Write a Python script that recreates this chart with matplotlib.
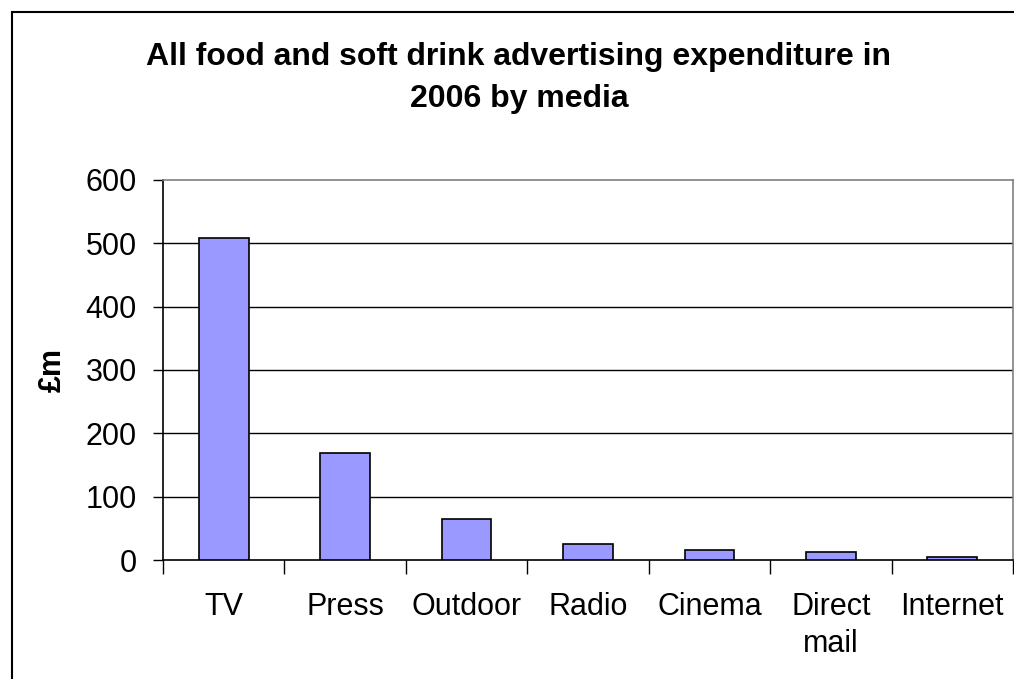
import matplotlib
matplotlib.use("Agg")
import matplotlib.pyplot as plt
from matplotlib.patches import Rectangle

categories = ["TV", "Press", "Outdoor", "Radio", "Cinema", "Direct\nmail", "Internet"]
spend = [508, 169, 64, 26, 16, 13, 5]
yticks = [0, 100, 200, 300, 400, 500, 600]

plt.rcParams["font.family"] = ["Liberation Sans", "DejaVu Sans"]

W, H = 1014, 679
fig = plt.figure(figsize=(W / 100, H / 100), dpi=100)

# outer chart-area frame
fig.patches.append(Rectangle((11.5 / W, -0.1), 1.2, (H - 11.5) / H + 0.1,
                             transform=fig.transFigure, fill=False,
                             edgecolor="black", linewidth=1.5))

left, right, top, bottom = 163, 1013, 180, 560
ax = fig.add_axes([left / W, 1 - bottom / H, (right - left) / W, (bottom - top) / H])

x = list(range(len(categories)))
ax.bar(x, spend, width=0.41, color="#9999ff", edgecolor="black", linewidth=1.2, zorder=3)

ax.set_xlim(-0.5, len(categories) - 0.5)
ax.set_ylim(0, 600)
ax.set_yticks(yticks)
ax.set_yticklabels([str(v) for v in yticks], fontsize=22)
for v in yticks[1:-1]:
    ax.axhline(v, color="black", linewidth=1, zorder=1)

ax.set_xticks(x)
ax.set_xticklabels(categories, fontsize=22, linespacing=1.3)
ax.tick_params(axis="x", length=0, pad=23)
ax.set_xticks([i - 0.5 for i in range(len(categories) + 1)], minor=True)
ax.tick_params(axis="x", which="minor", length=10, width=1, direction="out", color="black")
ax.tick_params(axis="y", length=7, width=1, direction="out", pad=12)

for side in ("left", "bottom"):
    ax.spines[side].set_color("black")
    ax.spines[side].set_linewidth(1.2)
for side in ("top", "right"):
    ax.spines[side].set_color("#808080")
    ax.spines[side].set_linewidth(1.2)

ax.set_ylabel("£m", fontsize=22, fontweight="bold", labelpad=13)

fig.text(519 / W, 1 - 78 / H,
         "All food and soft drink advertising expenditure in\n2006 by media",
         ha="center", va="center", fontsize=23, fontweight="bold", linespacing=1.55)

fig.savefig("out.png", dpi=100)
